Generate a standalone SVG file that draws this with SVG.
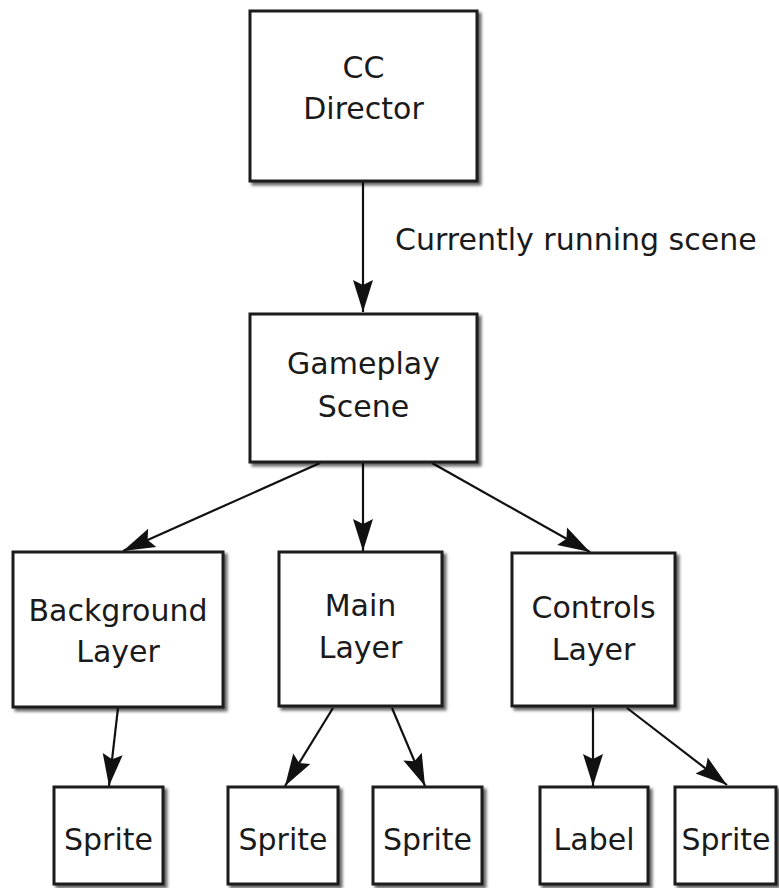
<svg xmlns="http://www.w3.org/2000/svg" width="779" height="888" viewBox="0 0 779 888">
<style>
.box{fill:#fff;stroke:#1a1a1a;stroke-width:3;filter:url(#sh)}
.t{font-family:"DejaVu Sans",Verdana,sans-serif;font-size:30px;fill:#1a1a1a;text-anchor:middle}
.lbl{font-family:"DejaVu Sans",Verdana,sans-serif;font-size:30px;fill:#1a1a1a}
.c{stroke:#111;stroke-width:2.2;fill:none;marker-end:url(#ah)}
</style>
<defs>
<filter id="sh" x="-10%" y="-10%" width="130%" height="130%">
<feDropShadow dx="3" dy="3" stdDeviation="1.5" flood-color="#000" flood-opacity="0.6"/>
</filter>
<marker id="ah" markerUnits="userSpaceOnUse" markerWidth="36" markerHeight="24" viewBox="-34 -12 36 24" refX="0" refY="0" orient="auto">
<path d="M0,0 L-32,-10 L-27,0 L-32,10 Z" fill="#111"/>
</marker>
</defs>
<rect width="779" height="888" fill="#fff"/>
<g id="connectors">
<line class="c" x1="363" y1="182" x2="363" y2="312"/>
<line class="c" x1="320" y1="463" x2="123" y2="551"/>
<line class="c" x1="363" y1="463" x2="363" y2="551"/>
<line class="c" x1="432" y1="463" x2="590" y2="552"/>
<line class="c" x1="118" y1="708" x2="109" y2="786"/>
<line class="c" x1="333" y1="708" x2="285" y2="786"/>
<line class="c" x1="392" y1="708" x2="425" y2="786"/>
<line class="c" x1="593" y1="708" x2="593" y2="786"/>
<line class="c" x1="627" y1="708" x2="727" y2="785"/>
</g>
<text class="lbl" x="395" y="250">Currently running scene</text>
<g id="director"><rect class="box" x="250" y="11" width="227" height="170"/>
<text class="t" x="363.5" y="78">CC</text><text class="t" x="363.5" y="119">Director</text></g>
<g id="gameplay"><rect class="box" x="250" y="314" width="227" height="148"/>
<text class="t" x="363.5" y="374">Gameplay</text><text class="t" x="363.5" y="417">Scene</text></g>
<g id="background"><rect class="box" x="13" y="552" width="210" height="155"/>
<text class="t" x="118" y="621">Background</text><text class="t" x="118" y="662">Layer</text></g>
<g id="main"><rect class="box" x="279" y="552" width="163" height="154"/>
<text class="t" x="360.5" y="616">Main</text><text class="t" x="360.5" y="658">Layer</text></g>
<g id="controls"><rect class="box" x="512" y="553" width="163" height="153"/>
<text class="t" x="593.5" y="618">Controls</text><text class="t" x="593.5" y="660">Layer</text></g>
<g id="sprite1"><rect class="box" x="54" y="787" width="109" height="97"/><text class="t" x="108.5" y="850">Sprite</text></g>
<g id="sprite2"><rect class="box" x="228" y="787" width="110" height="97"/><text class="t" x="283" y="850">Sprite</text></g>
<g id="sprite3"><rect class="box" x="373" y="787" width="109" height="97"/><text class="t" x="427.5" y="850">Sprite</text></g>
<g id="label"><rect class="box" x="540" y="787" width="108" height="97"/><text class="t" x="594" y="850">Label</text></g>
<g id="sprite5"><rect class="box" x="675" y="787" width="101" height="97"/><text class="t" x="726" y="850">Sprite</text></g>
</svg>
